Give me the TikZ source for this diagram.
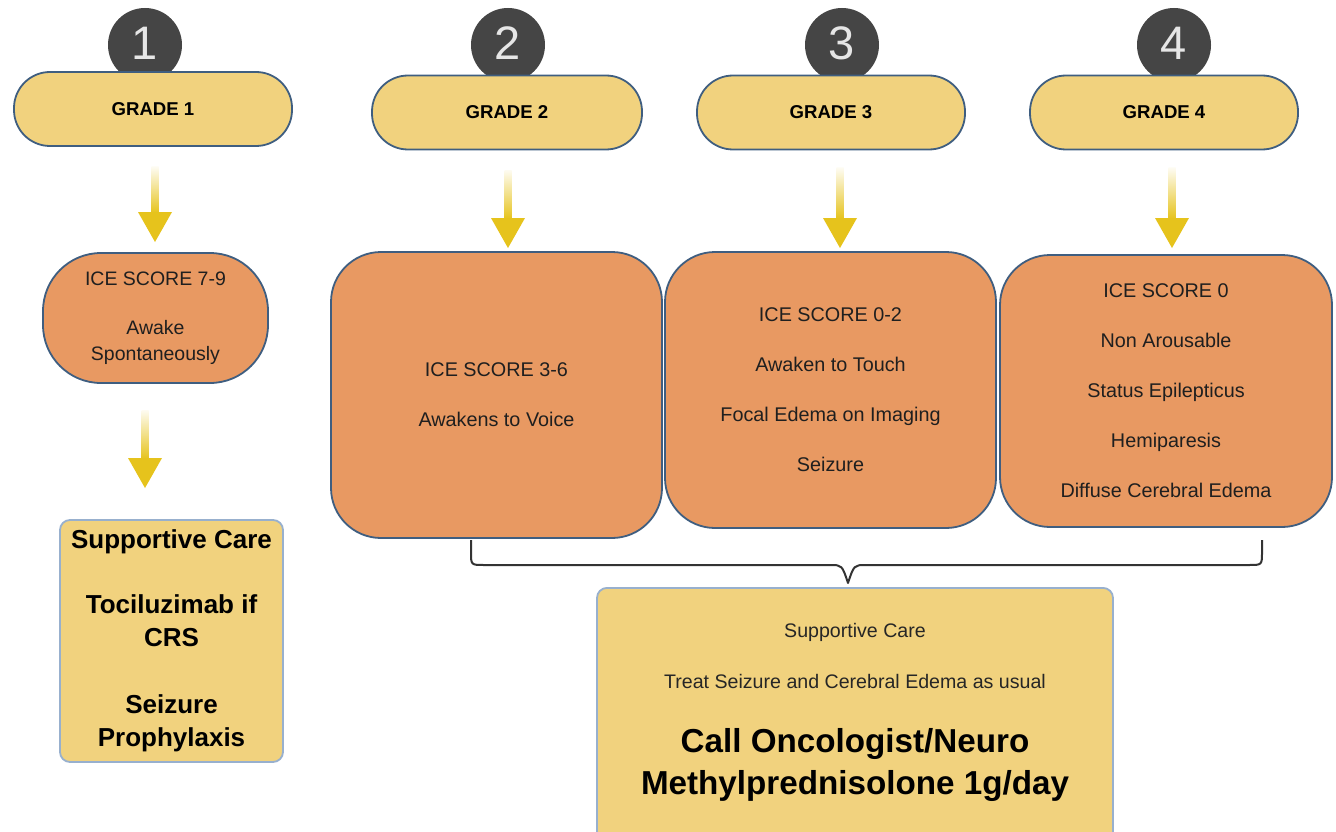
\documentclass[tikz,border=0pt]{standalone}
\usepackage{fontspec}
\setmainfont{Liberation Sans}
\usetikzlibrary{calc}
\definecolor{pillfill}{HTML}{F1D27E}
\definecolor{boxorange}{HTML}{E89962}
\definecolor{edge}{HTML}{3F5E80}
\definecolor{lightedge}{HTML}{98B0CE}
\definecolor{badge}{HTML}{454545}
\definecolor{badgetext}{HTML}{E6E6E6}
\definecolor{arrowyellow}{HTML}{E6C31C}
\definecolor{bracegray}{HTML}{333333}
\newcommand{\fs}[2]{\fontsize{#1}{#2}\selectfont}
\newcommand{\digit}[1]{\raisebox{3pt}{#1}}
% x, top of shaft, tip
\newcommand{\yarrow}[3]{%
  \shade[top color=arrowyellow!6, bottom color=arrowyellow] (#1-3.5,#2) rectangle (#1+3.5,#3-29);
  \fill[arrowyellow] (#1-17,#3-30) -- (#1+17,#3-30) -- (#1,#3) -- cycle;}
\begin{document}
\begin{tikzpicture}[x=1pt,y=-1pt,
  badgenode/.style={circle, fill=badge, minimum size=74pt, inner sep=0pt, text=badgetext, font=\fs{47}{47}},
  gradepill/.style={draw=edge, line width=1.8pt, fill=pillfill, rounded corners=36pt, minimum height=74pt, font=\bfseries\fs{18.6}{20}},
  icebox/.style={draw=edge, line width=1.8pt, fill=boxorange, rounded corners=50pt, align=center, text=black!88, font=\fs{19.8}{50}},
  carebox/.style={draw=lightedge, line width=1.8pt, fill=pillfill, rounded corners=10pt, align=center},
  caretext/.style={anchor=base, text=black!85, font=\fs{19.6}{22}},
  bigtext/.style={anchor=base, font=\bfseries\fs{33.2}{36}},
  bracepath/.style={draw=bracegray, line width=2pt, line join=round},
]
\useasboundingbox (0,0) rectangle (1336,832);
\fill[white] (0,0) rectangle (1336,832);

% badges
\node[badgenode] (b1) at (145,45) {\digit{1}};
\node[badgenode] (b2) at (508,45) {\digit{2}};
\node[badgenode] (b3) at (842,45) {\digit{3}};
\node[badgenode] (b4) at (1174,45) {\digit{4}};

% grade pills
\node[gradepill, minimum width=278pt] (g1) at (153,109) {GRADE 1};
\node[gradepill, minimum width=270pt] (g2) at (507,112.5) {GRADE 2};
\node[gradepill, minimum width=268pt] (g3) at (831,112.5) {GRADE 3};
\node[gradepill, minimum width=268pt] (g4) at (1164,112.5) {GRADE 4};

% arrows
\yarrow{155}{167}{242}
\yarrow{508}{170}{248}
\yarrow{840}{168}{248}
\yarrow{1172}{168}{248}
\yarrow{145}{410}{488}

% ICE boxes
\node[icebox, rounded corners=58pt, minimum width=225pt, minimum height=130pt, font=\fs{19.5}{26}] (i1) at (155.5,318)
  {ICE SCORE 7-9\\[23pt]Awake\\Spontaneously};
\node[icebox, minimum width=331pt, minimum height=286pt] (i2) at (496.5,395)
  {ICE SCORE 3-6\\Awakens to Voice};
\node[icebox, minimum width=331pt, minimum height=276pt] (i3) at (830.5,390)
  {ICE SCORE 0-2\\Awaken to Touch\\Focal Edema on Imaging\\Seizure};
\node[icebox, minimum width=332pt, minimum height=272pt] (i4) at (1166,391)
  {ICE SCORE 0\\Non Arousable\\Status Epilepticus\\Hemiparesis\\Diffuse Cerebral Edema};

% grade 1 care box
\node[carebox, minimum width=223pt, minimum height=242pt, font=\bfseries\fs{26}{33}] (sc1) at (171.5,641)
  {Supportive Care\\[32pt]Tociluzimab if\\CRS\\[34pt]Seizure\\Prophylaxis};

% brace
\coordinate (bl) at (471,540);
\coordinate (br) at (1262,540);
\coordinate (btip) at (848,583);
\path[bracepath] (bl) -- (471,552) .. controls (471,565) .. (484,565) -- (830,565)
  .. controls (842,565) .. (btip) .. controls (854,565) .. (866,565) -- (1249,565)
  .. controls (1262,565) .. (1262,552) -- (br);

% bottom care box
\node[carebox, anchor=north, minimum width=516pt, minimum height=270pt] (bc) at (855,587) {};
\node[caretext] (t1) at (855,637) {Supportive Care};
\node[caretext] (t2) at (855,688) {Treat Seizure and Cerebral Edema as usual};
\node[bigtext] (t3) at (855,752) {Call Oncologist/Neuro};
\node[bigtext] (t4) at (855,794) {Methylprednisolone 1g/day};
\end{tikzpicture}
\end{document}
